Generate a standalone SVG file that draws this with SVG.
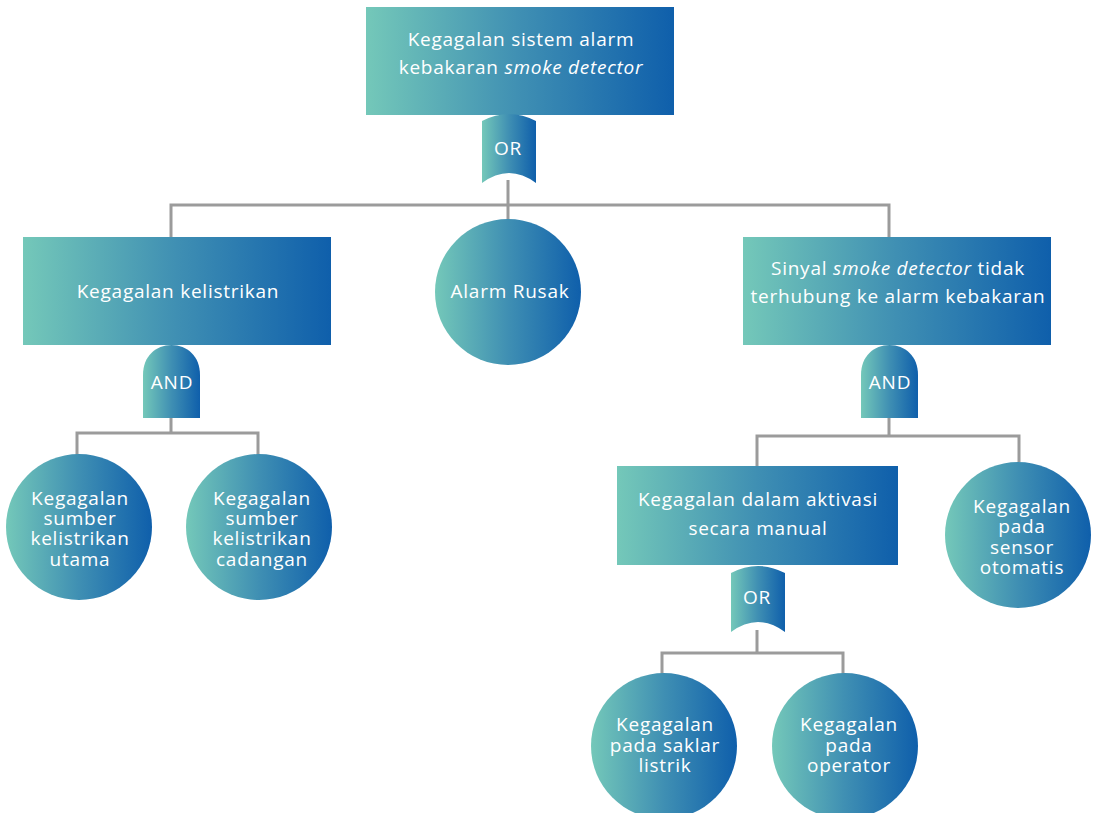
<svg xmlns="http://www.w3.org/2000/svg" width="1093" height="813" viewBox="0 0 1093 813">
<defs>
<linearGradient id="g" x1="0" y1="0" x2="1" y2="0">
<stop offset="0" stop-color="#74c8b9"/>
<stop offset="0.5" stop-color="#3f8fb3"/>
<stop offset="1" stop-color="#0f5fab"/>
</linearGradient>
<style>
.n{fill:url(#g)}
.t{font-family:"Open Sans",Lato,sans-serif;font-size:19px;letter-spacing:0.75px;fill:#ffffff;text-anchor:middle}
.c{fill:none;stroke:#9b9b9b;stroke-width:3}
</style>
</defs>
<rect width="1093" height="813" fill="#ffffff"/>
<g id="connectors">
<path class="c" d="M508,180 V205 M171,237 V205 H889 V237 M508,205 V220"/>
<path class="c" d="M171,416 V433 H77 V455 M171,433 H258 V455"/>
<path class="c" d="M889,416 V436 H757 V466 M889,436 H1019 V462"/>
<path class="c" d="M757,630 V653 H662 V674 M757,653 H843 V674"/>
</g>
<g id="top">
<rect class="n" x="366" y="7" width="308" height="108"/>
<text class="t" x="521" y="46">Kegagalan sistem alarm</text>
<text class="t" x="521" y="74">kebakaran <tspan font-style="italic">smoke detector</tspan></text>
</g>
<g id="gate-or-1">
<path class="n" d="M482,121 Q509,107 536,121 L536,183 Q509,163 482,183 Z"/>
<text class="t" x="508" y="155">OR</text>
</g>
<g id="kelistrikan">
<rect class="n" x="23" y="237" width="308" height="108"/>
<text class="t" x="178" y="298">Kegagalan kelistrikan</text>
</g>
<g id="alarm-rusak">
<circle class="n" cx="508" cy="292" r="73"/>
<text class="t" x="510" y="298">Alarm Rusak</text>
</g>
<g id="sinyal">
<rect class="n" x="743" y="237" width="308" height="108"/>
<text class="t" x="898" y="275">Sinyal <tspan font-style="italic">smoke detector</tspan> tidak</text>
<text class="t" x="898" y="303">terhubung ke alarm kebakaran</text>
</g>
<g id="gate-and-1">
<path class="n" d="M143,418 L143,375 C143,356 156,345 171.5,345 C187,345 200,356 200,375 L200,418 Z"/>
<text class="t" x="172" y="389">AND</text>
</g>
<g id="utama">
<circle class="n" cx="79" cy="527" r="73"/>
<text class="t" x="80" y="505">Kegagalan</text>
<text class="t" x="80" y="525">sumber</text>
<text class="t" x="80" y="545">kelistrikan</text>
<text class="t" x="80" y="566">utama</text>
</g>
<g id="cadangan">
<circle class="n" cx="259" cy="527" r="73"/>
<text class="t" x="262" y="505">Kegagalan</text>
<text class="t" x="262" y="525">sumber</text>
<text class="t" x="262" y="545">kelistrikan</text>
<text class="t" x="262" y="566">cadangan</text>
</g>
<g id="gate-and-2">
<path class="n" d="M861,418 L861,375 C861,356 874,345 889.5,345 C905,345 918,356 918,375 L918,418 Z"/>
<text class="t" x="890" y="389">AND</text>
</g>
<g id="manual">
<rect class="n" x="617" y="466" width="281" height="99"/>
<text class="t" x="758" y="506">Kegagalan dalam aktivasi</text>
<text class="t" x="758" y="535">secara manual</text>
</g>
<g id="sensor">
<circle class="n" cx="1018" cy="535" r="73"/>
<text class="t" x="1022" y="513">Kegagalan</text>
<text class="t" x="1022" y="533">pada</text>
<text class="t" x="1022" y="554">sensor</text>
<text class="t" x="1022" y="574">otomatis</text>
</g>
<g id="gate-or-2">
<path class="n" d="M731,573 Q758,559 785,573 L785,632 Q758,612 731,632 Z"/>
<text class="t" x="757" y="604">OR</text>
</g>
<g id="saklar">
<circle class="n" cx="664" cy="746" r="73"/>
<text class="t" x="665" y="731">Kegagalan</text>
<text class="t" x="665" y="752">pada saklar</text>
<text class="t" x="665" y="772">listrik</text>
</g>
<g id="operator">
<circle class="n" cx="845" cy="746" r="73"/>
<text class="t" x="849" y="731">Kegagalan</text>
<text class="t" x="849" y="752">pada</text>
<text class="t" x="849" y="772">operator</text>
</g>
</svg>
